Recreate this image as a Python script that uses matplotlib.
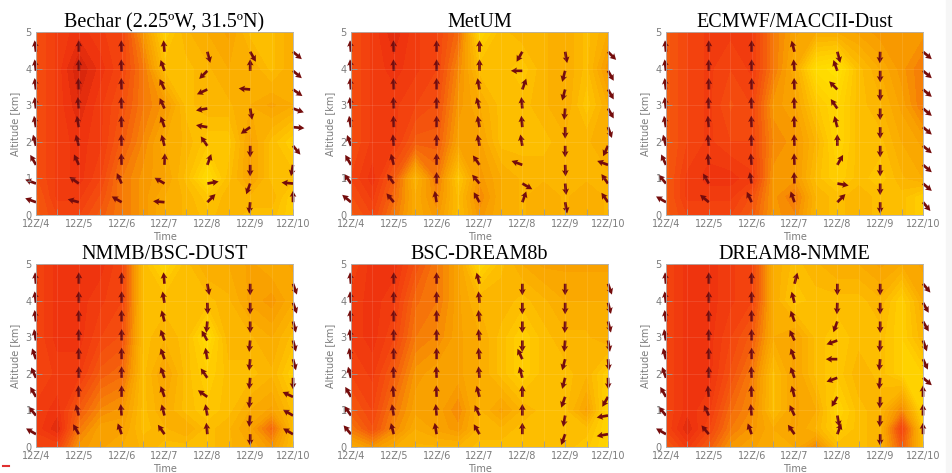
import numpy as np
import matplotlib
matplotlib.use("Agg")
import matplotlib.pyplot as plt
from matplotlib.colors import LinearSegmentedColormap
from matplotlib.patches import Rectangle
from matplotlib.lines import Line2D

# time axis: days after 12Z/4, field sampled every 12 h
field_times = [0, 0.5, 1, 1.5, 2, 2.5, 3, 3.5, 4, 4.5, 5, 5.5, 6]
# field rows, top to bottom (km)
field_heights = [5, 4, 3, 2, 1, 0.5, 0]
day_labels = ["12Z/4", "12Z/5", "12Z/6", "12Z/7", "12Z/8", "12Z/9", "12Z/10"]
arrow_times = [0, 1, 2, 3, 4, 5, 6]
# arrow tail heights, top to bottom (km)
arrow_heights = [4.46, 3.94, 3.43, 2.91, 2.40, 1.89, 1.37, 0.86, 0.35]

titles = ["Bechar (2.25ºW, 31.5ºN)", "MetUM", "ECMWF/MACCII-Dust",
          "NMMB/BSC-DUST", "BSC-DREAM8b", "DREAM8-NMME"]

bechar_field = [
    [7.5, 8.5, 9.0, 8.5, 8.0, 5.0, 2.0, 3.5, 4.0, 4.5, 3.0, 3.0, 4.0],
    [7.5, 8.5, 10., 9.0, 8.0, 6.0, 3.0, 3.0, 3.5, 4.0, 4.0, 3.0, 4.0],
    [7.5, 8.5, 9.5, 8.5, 7.5, 6.0, 5.0, 3.0, 3.5, 3.5, 4.0, 4.5, 4.0],
    [7.5, 8.5, 9.0, 8.5, 7.0, 5.5, 4.0, 3.5, 2.5, 2.5, 4.5, 3.0, 2.0],
    [7.5, 8.5, 9.0, 8.0, 6.0, 5.0, 4.5, 3.0, 1.0, 3.0, 4.5, 3.0, 3.0],
    [7.0, 8.5, 8.5, 7.5, 6.0, 5.0, 4.0, 3.5, 2.5, 3.5, 3.5, 3.5, 2.0],
    [7.0, 8.0, 8.0, 7.0, 6.0, 5.0, 4.0, 3.5, 3.0, 3.5, 3.0, 3.0, 2.0],
]
metum_field = [
    [7.5, 8.5, 9.5, 8.5, 8.0, 6.5, 1.5, 3.0, 3.5, 3.5, 4.0, 3.0, 4.0],
    [7.5, 8.5, 9.0, 8.5, 8.0, 5.5, 3.0, 3.0, 2.5, 3.5, 4.0, 3.0, 5.0],
    [7.5, 8.5, 8.5, 8.0, 7.5, 5.0, 4.0, 3.0, 3.0, 3.5, 4.0, 2.5, 4.0],
    [7.5, 8.5, 8.5, 7.0, 7.0, 4.5, 4.5, 3.0, 3.0, 3.0, 3.5, 3.5, 4.0],
    [8.0, 9.0, 7.0, 3.5, 6.0, 2.5, 5.0, 4.0, 3.5, 3.5, 3.5, 3.5, 3.5],
    [7.5, 8.5, 6.5, 4.0, 5.5, 3.0, 5.5, 4.0, 3.5, 4.0, 3.5, 4.0, 3.5],
    [7.0, 8.0, 6.0, 4.0, 5.0, 3.0, 5.0, 4.0, 3.5, 4.0, 3.5, 4.0, 3.5],
]
ecmwf_field = [
    [7.0, 8.0, 8.5, 8.5, 8.5, 6.0, 4.5, 4.0, 4.0, 4.5, 5.0, 5.0, 5.0],
    [7.0, 8.0, 8.5, 8.0, 8.5, 6.0, 4.0, 1.0, 0.5, 3.0, 4.0, 5.0, 6.0],
    [7.0, 8.0, 8.5, 7.5, 8.0, 5.0, 4.5, 2.5, 1.5, 3.0, 3.5, 4.5, 6.0],
    [7.0, 8.0, 8.5, 8.0, 8.0, 5.5, 5.0, 3.5, 1.5, 3.0, 3.0, 4.0, 4.5],
    [7.0, 8.5, 9.0, 9.0, 8.5, 5.0, 5.0, 3.0, 2.0, 3.0, 2.5, 3.5, 4.0],
    [7.0, 8.5, 8.5, 8.5, 7.5, 5.0, 6.0, 3.5, 3.0, 3.5, 3.0, 3.0, 2.0],
    [7.0, 8.0, 8.0, 8.0, 7.0, 5.0, 5.5, 3.5, 3.0, 3.5, 3.0, 3.0, 2.0],
]
nmmb_field = [
    [8.0, 9.0, 9.0, 9.0, 8.0, 3.0, 1.5, 3.0, 4.0, 4.0, 4.5, 4.0, 4.5],
    [8.0, 9.0, 9.0, 8.5, 8.0, 3.0, 3.0, 3.0, 3.0, 3.5, 4.5, 5.0, 4.0],
    [8.0, 9.0, 9.0, 8.0, 7.5, 3.0, 3.5, 3.0, 1.0, 3.5, 3.5, 4.0, 3.0],
    [8.0, 8.5, 8.5, 7.0, 6.5, 3.0, 4.5, 3.0, 2.0, 3.0, 3.0, 3.5, 2.0],
    [8.5, 9.0, 7.0, 5.5, 5.0, 3.0, 4.0, 3.0, 2.5, 3.0, 4.0, 4.5, 3.0],
    [8.5, 9.5, 6.0, 4.5, 4.5, 3.0, 3.5, 4.0, 3.0, 3.5, 4.5, 6.5, 3.0],
    [8.0, 8.0, 5.0, 4.5, 4.0, 3.5, 3.0, 3.0, 3.0, 3.5, 4.0, 5.0, 3.0],
]
dream8b_field = [
    [8.0, 9.0, 9.0, 7.5, 6.0, 4.5, 1.5, 3.0, 4.0, 4.5, 4.5, 4.5, 4.5],
    [8.5, 9.0, 8.5, 6.5, 6.0, 4.5, 3.5, 3.5, 3.0, 3.5, 4.0, 4.0, 4.0],
    [8.5, 9.0, 8.0, 6.0, 5.5, 4.5, 4.0, 3.0, 2.0, 3.0, 3.5, 3.5, 4.0],
    [8.0, 8.5, 7.0, 5.0, 4.5, 4.5, 4.0, 3.0, 2.0, 3.0, 3.0, 3.5, 2.0],
    [7.0, 8.0, 6.0, 4.5, 4.5, 5.5, 3.5, 4.5, 3.5, 3.0, 3.0, 4.5, 1.5],
    [6.0, 7.5, 5.5, 4.0, 4.5, 5.0, 3.5, 3.5, 3.0, 3.0, 3.0, 3.0, 1.5],
    [4.0, 5.0, 4.0, 3.5, 3.5, 3.5, 3.0, 3.0, 3.0, 3.0, 3.0, 2.5, 1.5],
]
nmme_field = [
    [8.0, 9.0, 9.0, 8.5, 8.0, 4.0, 3.0, 3.5, 4.0, 4.0, 4.5, 4.0, 4.5],
    [8.0, 9.0, 9.0, 8.5, 8.0, 4.0, 2.5, 3.0, 3.0, 3.0, 3.5, 2.0, 4.0],
    [8.0, 9.0, 9.0, 8.0, 7.0, 4.0, 4.5, 3.0, 2.5, 3.0, 3.0, 2.0, 3.5],
    [8.0, 9.0, 9.0, 7.5, 6.0, 3.0, 4.5, 3.0, 2.5, 3.5, 3.0, 2.0, 2.0],
    [8.0, 9.0, 8.5, 6.5, 5.5, 3.0, 4.5, 4.0, 1.5, 3.0, 3.5, 5.5, 1.5],
    [8.0, 9.5, 8.0, 6.0, 5.0, 4.0, 4.5, 3.5, 2.0, 3.0, 3.5, 8.0, 2.5],
    [7.0, 8.5, 7.0, 5.0, 4.5, 4.0, 4.0, 5.5, 3.0, 3.0, 3.5, 7.0, 3.0],
]

# wind direction (deg, counter-clockwise from east), one list per day, top to bottom
bechar_dir = [
    [97, 97, 97, 97, 100, 105, 120, 160, 160],
    [90, 90, 92, 95, 100, 105, 115, 145, 165],
    [92, 92, 92, 92, 92, 92, 92, 115, 150],
    [95, 110, 115, 115, 110, 105, 88, 150, 175],
    [285, 225, 205, 190, 170, 125, 70, 10, 45],
    [300, 90, 175, 280, 215, 270, 270, 250, 265],
    [320, 320, 325, 340, 355, 310, 260, 175, 90],
]
metum_dir = [
    [95, 95, 95, 97, 100, 110, 120, 125, 140],
    [92, 92, 92, 92, 92, 95, 105, 125, 130],
    [90, 90, 90, 90, 90, 90, 90, 90, 100],
    [90, 90, 100, 105, 100, 100, 125, 130, 120],
    [240, 180, 70, 95, 95, 100, 160, 330, 70],
    [280, 255, 255, 265, 270, 270, 272, 275, 280],
    [315, 300, 300, 300, 290, 245, 160, 125, 125],
]
ecmwf_dir = [
    [95, 97, 97, 97, 100, 105, 115, 130, 150],
    [90, 90, 90, 92, 95, 95, 95, 120, 140],
    [90, 90, 90, 92, 92, 92, 95, 100, 115],
    [105, 95, 92, 92, 92, 92, 92, 92, 110],
    [285, 110, 135, 125, 105, 90, 60, 350, 45],
    [268, 270, 270, 270, 270, 270, 270, 270, 270],
    [320, 320, 320, 320, 320, 320, 320, 320, 310],
]
nmmb_dir = [
    [95, 97, 97, 100, 110, 115, 120, 130, 150],
    [90, 90, 90, 90, 90, 90, 92, 105, 120],
    [90, 90, 90, 90, 90, 90, 90, 95, 110],
    [95, 100, 105, 110, 110, 110, 110, 105, 125],
    [280, 272, 265, 120, 100, 125, 145, 100, 95],
    [270, 270, 270, 265, 265, 265, 265, 265, 270],
    [290, 290, 285, 285, 285, 270, 155, 150, 150],
]
dream8b_dir = [
    [95, 95, 95, 97, 100, 105, 120, 125, 130],
    [90, 90, 90, 90, 90, 92, 95, 100, 105],
    [90, 90, 90, 90, 90, 92, 92, 95, 100],
    [105, 95, 95, 95, 95, 95, 105, 115, 120],
    [270, 270, 270, 270, 115, 105, 90, 90, 90],
    [270, 270, 268, 265, 255, 255, 250, 260, 250],
    [290, 285, 285, 280, 275, 272, 240, 190, 190],
]
nmme_dir = [
    [95, 97, 97, 100, 105, 110, 120, 130, 150],
    [90, 90, 90, 90, 90, 90, 95, 115, 130],
    [90, 90, 90, 90, 90, 92, 92, 95, 110],
    [75, 105, 110, 115, 110, 110, 105, 115, 125],
    [270, 268, 250, 200, 180, 200, 240, 280, 70],
    [270, 270, 270, 268, 265, 265, 268, 268, 270],
    [310, 300, 300, 290, 295, 320, 90, 90, 90],
]

fields = [bechar_field, metum_field, ecmwf_field, nmmb_field, dream8b_field, nmme_field]
directions = [bechar_dir, metum_dir, ecmwf_dir, nmmb_dir, dream8b_dir, nmme_dir]

cmap = LinearSegmentedColormap.from_list("dust", [
    (0.0, "#ffe600"), (0.2, "#ffd000"), (0.35, "#fcb400"), (0.5, "#f89a00"),
    (0.6, "#f67a08"), (0.7, "#f45c0c"), (0.8, "#f4460e"), (0.9, "#f0340e"),
    (1.0, "#d4240c")])
levels = np.linspace(0, 10, 26)

fig = plt.figure(figsize=(9.53, 4.73), dpi=100)
lefts = [36, 351, 666]
tops = [32, 264]
w_px, h_px = 257, 183

for i in range(6):
    r, c = divmod(i, 3)
    ax = fig.add_axes([lefts[c] / 953, 1 - (tops[r] + h_px) / 473, w_px / 953, h_px / 473])
    z = np.array(fields[i])[::-1]
    ax.contourf(field_times, field_heights[::-1], z, levels=levels, cmap=cmap, extend="both")

    ang = np.array(directions[i]).T
    X, Y = np.meshgrid(arrow_times, arrow_heights)
    q = ax.quiver(X, Y, np.ones_like(ang), np.zeros_like(ang), angles=ang,
                  pivot="tail", color="#740c0c", units="dots", width=2.7,
                  headwidth=2.5, headlength=2.3, headaxislength=2.0,
                  scale_units="inches", scale=1 / 0.115)
    q.set_clip_on(False)

    ax.set_xlim(0, 6)
    ax.set_ylim(0, 5)
    ax.set_xticks(arrow_times)
    ax.set_xticklabels(day_labels)
    ax.set_xticks(field_times, minor=True)
    ax.set_yticks(range(6))
    ax.tick_params(which="both", direction="in", length=4, width=0.6,
                   colors="#9a9a9a", labelsize=7, labelcolor="#7c7c7c", pad=3)
    ax.grid(True, which="both", color="white", alpha=0.12, lw=0.6)
    for s in ax.spines.values():
        s.set_color("#b0b0b0")
        s.set_linewidth(0.6)
    ax.set_xlabel("Time", fontsize=7, color="#7c7c7c", labelpad=2)
    ax.set_ylabel("Altitude [km]", fontsize=7, color="#7c7c7c", labelpad=4)
    ax.set_title(titles[i], family="Liberation Serif", fontsize=14.5, pad=2)

fig.patches.append(Rectangle((946 / 953, 0), 7 / 953, 1, transform=fig.transFigure,
                             color="#f6f6f6", zorder=-1))
fig.add_artist(Line2D([3 / 953, 9 / 953], [1 - 466 / 473] * 2, color="#e03030", lw=1.5))

fig.savefig("out.png", dpi=100)
